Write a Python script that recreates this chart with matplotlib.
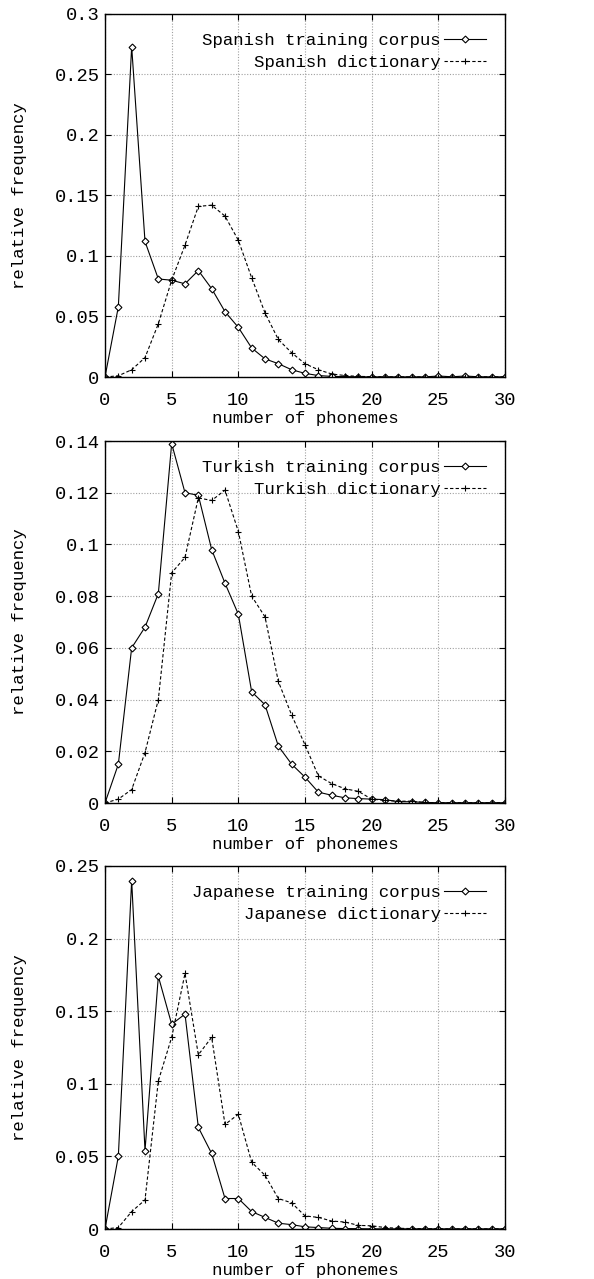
import matplotlib
matplotlib.use("Agg")
import matplotlib.pyplot as plt
from matplotlib.ticker import FuncFormatter

x = list(range(31))

spanish_corpus = [0, 0.058, 0.273, 0.112, 0.081, 0.080, 0.077, 0.088, 0.073, 0.054, 0.041,
                  0.024, 0.015, 0.011, 0.006, 0.003, 0.0012, 0.0005, 0.0003, 0.0002, 0.0001,
                  0.0001, 0.0001, 0.0001, 0.0001, 0.0008, 0.0002, 0.0008, 0.0002, 0.0001, 0.0001]
spanish_dict = [0, 0.001, 0.006, 0.016, 0.044, 0.080, 0.109, 0.141, 0.142, 0.133, 0.113,
                0.082, 0.053, 0.031, 0.020, 0.011, 0.006, 0.0025, 0.0012, 0.0005, 0.0003,
                0.0002, 0.0001, 0.0001, 0.0001, 0.0001, 0.0001, 0.0001, 0.0001, 0.0001, 0.0001]

turkish_corpus = [0, 0.015, 0.060, 0.068, 0.081, 0.139, 0.120, 0.119, 0.098, 0.085, 0.073,
                  0.043, 0.038, 0.022, 0.015, 0.010, 0.0042, 0.003, 0.002, 0.0017, 0.0015,
                  0.0013, 0.0005, 0.0005, 0.0002, 0.0001, 0.0001, 0.0001, 0.0001, 0.0001, 0.0001]
turkish_dict = [0, 0.0015, 0.0052, 0.0195, 0.040, 0.089, 0.095, 0.118, 0.117, 0.121, 0.105,
                0.080, 0.072, 0.047, 0.034, 0.0225, 0.0105, 0.0075, 0.0055, 0.0045, 0.0015,
                0.001, 0.0007, 0.0007, 0.0002, 0.0001, 0.0001, 0.0001, 0.0001, 0.0001, 0.0001]

japanese_corpus = [0, 0.050, 0.240, 0.054, 0.174, 0.141, 0.148, 0.070, 0.052, 0.021, 0.021,
                   0.012, 0.008, 0.004, 0.003, 0.0015, 0.001, 0.0005, 0.0003, 0.0002, 0.0001,
                   0.0001, 0.0001, 0.0001, 0.0001, 0.0001, 0.0001, 0.0001, 0.0001, 0.0001, 0.0001]
japanese_dict = [0, 0.001, 0.012, 0.020, 0.102, 0.132, 0.176, 0.120, 0.132, 0.072, 0.079,
                 0.046, 0.037, 0.021, 0.018, 0.009, 0.008, 0.0055, 0.0048, 0.0025, 0.0022,
                 0.001, 0.0005, 0.0003, 0.0002, 0.0001, 0.0001, 0.0001, 0.0001, 0.0001, 0.0001]

panels = [
    ("Spanish", spanish_corpus, spanish_dict, 0.3, [0, 0.05, 0.1, 0.15, 0.2, 0.25, 0.3]),
    ("Turkish", turkish_corpus, turkish_dict, 0.14, [0, 0.02, 0.04, 0.06, 0.08, 0.1, 0.12, 0.14]),
    ("Japanese", japanese_corpus, japanese_dict, 0.25, [0, 0.05, 0.1, 0.15, 0.2, 0.25]),
]

plt.rcParams['font.family'] = ['Liberation Mono', 'DejaVu Sans Mono']
plt.rcParams['font.size'] = 12.5

W, H = 594, 1279
fig = plt.figure(figsize=(W / 100, H / 100), dpi=100)

tops = [14, 441, 866]
bottoms = [377, 803, 1229]
left, right = 105, 505

def fmt(v, pos):
    return "%g" % v

for (name, corp, dic, ymax, yt), t, b in zip(panels, tops, bottoms):
    ax = fig.add_axes([left / W, 1 - b / H, (right - left) / W, (b - t) / H])
    ax.plot(x, corp, color='black', lw=0.8, marker='D', markersize=3.5,
            markerfacecolor='white', markeredgewidth=0.8, label=f"{name} training corpus")
    ax.plot(x, dic, color='black', lw=0.8, ls=(0, (3, 2)), marker='+', markersize=5,
            markeredgewidth=0.8, label=f"{name} dictionary")
    ax.set_xlim(0, 30)
    ax.set_ylim(0, ymax)
    ax.set_xticks([0, 5, 10, 15, 20, 25, 30])
    ax.set_yticks(yt)
    ax.yaxis.set_major_formatter(FuncFormatter(fmt))
    ax.grid(True, color='#a0a0a0', ls=(0, (1, 1.5)), lw=0.8)
    ax.tick_params(direction='in', top=True, right=True, length=4, width=0.8, labelsize=13.5)
    ax.tick_params(axis='x', pad=11)
    ax.tick_params(axis='y', pad=4)
    for s in ax.spines.values():
        s.set_linewidth(1.0)
    ax.set_xlabel("number of phonemes", labelpad=1)
    ax.set_ylabel("relative frequency", labelpad=20)
    leg = ax.legend(loc='upper right', markerfirst=False, frameon=False,
                    handlelength=2.4, handletextpad=0.2, labelspacing=0.4,
                    borderaxespad=0.8, borderpad=0.3, fontsize=12.5)

fig.savefig("out.png", dpi=100)
